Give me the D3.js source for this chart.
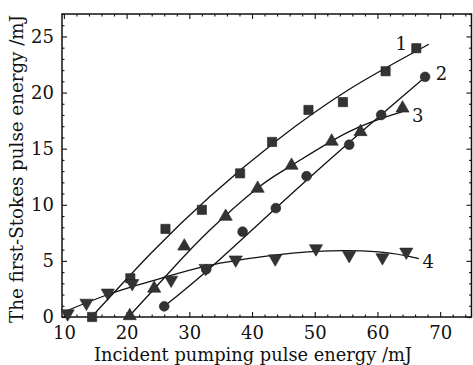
<!DOCTYPE html>
<html>
<head>
<meta charset="utf-8">
<script src="https://cdn.jsdelivr.net/npm/d3@7"></script>
<style>
  html, body { margin: 0; padding: 0; background: #fff; }
</style>
</head>
<body>
<div id="chart"></div>
<script>
const s1x = [14.5, 20.6, 26.2, 32.0, 38.1, 43.2, 49.0, 54.5, 61.3, 66.2];
const s1y = [0.0, 3.45, 7.85, 9.55, 12.8, 15.6, 18.45, 19.15, 21.9, 23.95];
const s2x = [26.0, 32.7, 38.5, 43.8, 48.7, 55.5, 60.6, 67.6];
const s2y = [0.95, 4.25, 7.6, 9.7, 12.55, 15.35, 18.0, 21.4];
const s3x = [20.5, 24.4, 29.2, 35.8, 40.9, 46.3, 52.7, 57.3, 64.0];
const s3y = [0.1, 2.55, 6.3, 8.95, 11.45, 13.5, 15.65, 16.5, 18.6];
const s4x = [10.6, 13.6, 17.0, 20.9, 27.1, 32.6, 37.4, 43.7, 50.2, 55.5, 60.8, 64.6];
const s4y = [0.3, 1.25, 2.15, 3.0, 3.3, 4.35, 5.1, 5.2, 6.1, 5.5, 5.3, 5.8];

// Fitted curves as drawn in the figure
const fit1 = [[14.4, 0], [24, 5.75], [33.2, 10.7], [44, 15.75], [55.4, 20.25], [68.2, 24.3]];
const fit2 = [[26, 0.95], [33.2, 4.3], [44, 9.8], [55.4, 15.5], [68.1, 21.6]];
const fit3 = [[20.3, 0], [27, 4.1], [33.2, 7.7], [40.9, 11.5], [46.3, 13.5], [55.4, 16.5], [64, 18.3]];
const fit4 = [[9.8, 0.4], [17.3, 2.05], [25.2, 3.4], [33.2, 4.6], [42, 5.4], [50.2, 5.85], [60.2, 5.8], [66.6, 5.2]];

const curveLabels = ["1", "2", "3", "4"];
const labelPos = [[62.9, 23.8], [69.3, 21.1], [65.5, 17.4], [67.2, 4.4]];

const xTicks = [10, 20, 30, 40, 50, 60, 70];
const yTicks = [0, 5, 10, 15, 20, 25];

const xTitle = "Incident pumping pulse energy /mJ";
const yTitle = "The first-Stokes pulse energy /mJ";

const FONT = "DejaVu Serif";

const W = 473, H = 365;
const margin = { top: 14, right: 1.5, bottom: 48, left: 62 };
const width = W - margin.left - margin.right;
const height = H - margin.top - margin.bottom;

const svg = d3.select("#chart")
    .append("svg")
    .attr("width", W)
    .attr("height", H);

const g = svg.append("g")
    .attr("transform", `translate(${margin.left},${margin.top})`);

const x = d3.scaleLinear().domain([9.7, 75]).range([0, width]);
const y = d3.scaleLinear().domain([0, 27]).range([height, 0]);

const xMinor = d3.range(10, 75, 2).filter(v => v % 10 !== 0);
const yMinor = d3.range(0, 28, 1).filter(v => v % 5 !== 0);

function styleAxis(sel) {
    sel.attr("font-family", FONT).attr("font-size", 18);
    sel.select(".domain").remove();
    sel.selectAll("line").attr("stroke", "#111").attr("stroke-width", 1.1);
    sel.selectAll("text").attr("fill", "#111");
}

// bottom
g.append("g").attr("transform", `translate(0,${height})`)
    .call(d3.axisBottom(x).tickValues(xTicks).tickSize(-5).tickPadding(9).tickFormat(d3.format("d")))
    .call(styleAxis);
g.append("g").attr("transform", `translate(0,${height})`)
    .call(d3.axisBottom(x).tickValues(xMinor).tickSize(-2.5).tickFormat(""))
    .call(styleAxis);
// top
g.append("g")
    .call(d3.axisTop(x).tickValues(xTicks).tickSize(-5).tickFormat(""))
    .call(styleAxis);
g.append("g")
    .call(d3.axisTop(x).tickValues(xMinor).tickSize(-2.5).tickFormat(""))
    .call(styleAxis);
// left
g.append("g")
    .call(d3.axisLeft(y).tickValues(yTicks).tickSize(-5).tickPadding(8).tickFormat(d3.format("d")))
    .call(styleAxis);
g.append("g")
    .call(d3.axisLeft(y).tickValues(yMinor).tickSize(-2.5).tickFormat(""))
    .call(styleAxis);
// right
g.append("g").attr("transform", `translate(${width},0)`)
    .call(d3.axisRight(y).tickValues(yTicks).tickSize(-5).tickFormat(""))
    .call(styleAxis);
g.append("g").attr("transform", `translate(${width},0)`)
    .call(d3.axisRight(y).tickValues(yMinor).tickSize(-2.5).tickFormat(""))
    .call(styleAxis);

// frame
g.append("rect")
    .attr("width", width)
    .attr("height", height)
    .attr("fill", "none")
    .attr("stroke", "#111")
    .attr("stroke-width", 1.5);

// fitted curves
const line = d3.line()
    .x(d => x(d[0]))
    .y(d => y(d[1]))
    .curve(d3.curveNatural);

[fit1, fit2, fit3, fit4].forEach(f => {
    g.append("path")
        .attr("d", line(f))
        .attr("fill", "none")
        .attr("stroke", "#111")
        .attr("stroke-width", 1.3);
});

const markFill = "#333";
const symbols = [d3.symbolSquare, d3.symbolCircle, d3.symbolTriangle, d3.symbolTriangle];
const sizes = [85, 75, 75, 75];
const series = [[s1x, s1y], [s2x, s2y], [s3x, s3y], [s4x, s4y]];

series.forEach(([xs, ys], i) => {
    g.append("g")
        .selectAll("path")
        .data(xs.map((v, j) => [v, ys[j]]))
        .enter()
        .append("path")
        .attr("d", d3.symbol().type(symbols[i]).size(sizes[i]))
        .attr("transform", d => `translate(${x(d[0])},${y(d[1])})` + (i === 3 ? " rotate(180)" : ""))
        .attr("fill", markFill)
        .attr("stroke", "#222")
        .attr("stroke-width", 0.6);
});

// curve numbers
g.selectAll("text.curve-label")
    .data(curveLabels)
    .enter()
    .append("text")
    .attr("class", "curve-label")
    .attr("x", (d, i) => x(labelPos[i][0]))
    .attr("y", (d, i) => y(labelPos[i][1]))
    .attr("fill", "#111")
    .attr("font-family", FONT)
    .attr("font-size", 18)
    .text(d => d);

// axis titles
svg.append("text")
    .attr("x", 253)
    .attr("y", 361)
    .attr("text-anchor", "middle")
    .attr("textLength", 318)
    .attr("lengthAdjust", "spacingAndGlyphs")
    .attr("fill", "#111")
    .attr("font-family", FONT)
    .attr("font-size", 18)
    .text(xTitle);

svg.append("text")
    .attr("transform", "translate(23,169) rotate(-90)")
    .attr("text-anchor", "middle")
    .attr("textLength", 308)
    .attr("lengthAdjust", "spacingAndGlyphs")
    .attr("fill", "#111")
    .attr("font-family", FONT)
    .attr("font-size", 18)
    .text(yTitle);
</script>
</body>
</html>
